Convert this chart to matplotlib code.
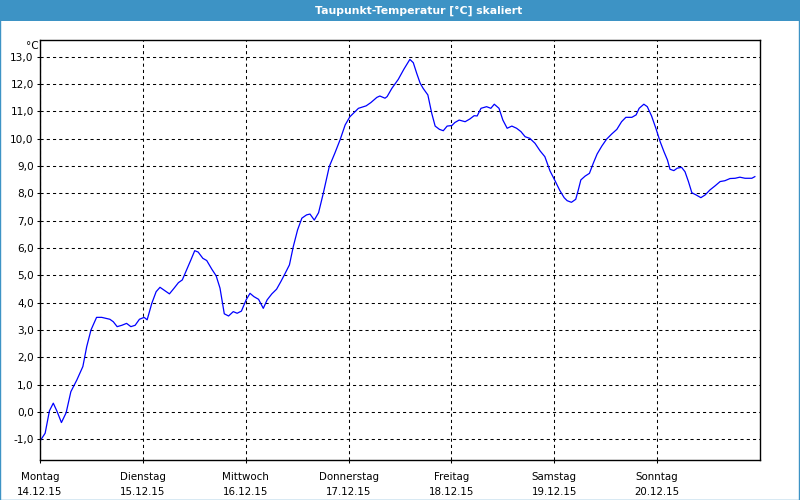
import matplotlib
matplotlib.use("Agg")
import matplotlib.pyplot as plt
from matplotlib.patches import Rectangle

# Stunden seit Montag 14.12.15 00:00 und Taupunkt in °C
hours = [0.2, 1.2, 2.2, 3.1, 4.0, 5.0, 6.1, 7.2, 8.6, 10.0, 10.9, 11.9, 13.2, 14.4,
         16.3, 17.1, 18.0, 19.1, 20.2, 21.2, 22.2, 23.2, 24.3, 25.0, 26.1, 27.1,
         28.0, 29.2, 30.2, 31.3, 32.3, 33.2, 34.2, 35.2, 36.1, 36.9, 38.0, 38.9,
         40.1, 41.1, 42.0, 43.0, 44.0, 45.1, 46.0, 47.0, 48.1, 49.0, 49.9, 51.0,
         52.1, 53.0, 54.1, 55.2, 56.2, 57.2, 58.2, 59.1, 60.1, 61.1, 62.2, 63.0,
         64.0, 65.0, 66.1, 67.5, 68.8, 70.0, 71.2, 72.3, 74.3, 76.1, 77.2, 78.6,
         79.3, 80.5, 81.0, 82.1, 83.6, 84.9, 86.3, 87.1, 87.9, 88.7, 89.4, 90.5,
         91.4, 92.2, 93.2, 94.1, 95.0, 96.1, 96.8, 97.8, 99.2, 100.3, 101.3, 102.0,
         102.9, 104.2, 105.2, 106.0, 107.1, 108.0, 109.0, 110.1, 111.2, 112.2,
         113.2, 114.3, 115.5, 116.7, 117.8, 119.0, 120.2, 121.3, 122.3, 123.0,
         124.0, 125.0, 125.6, 126.2, 127.2, 128.2, 129.1, 130.0, 131.1, 132.2,
         133.4, 134.6, 135.7, 136.7, 138.1, 139.1, 139.8, 140.9, 141.7, 142.7,
         143.7, 144.7, 145.6, 146.4, 147.0, 147.9, 148.7, 149.7, 150.5, 151.3,
         152.1, 153.1, 154.2, 155.2, 156.3, 157.5, 158.7, 159.8, 161.0, 162.2,
         163.3, 164.5, 166.1, 166.8]
dewpoint = [-1.02, -0.78, 0.04, 0.32, 0.01, -0.39, -0.03, 0.74, 1.17, 1.66, 2.39, 3.0,
            3.46, 3.46, 3.39, 3.30, 3.12, 3.17, 3.24, 3.12, 3.17, 3.39, 3.46, 3.37,
            3.98, 4.40, 4.56, 4.43, 4.32, 4.53, 4.73, 4.83, 5.19, 5.56, 5.90, 5.85,
            5.62, 5.54, 5.22, 4.98, 4.53, 3.59, 3.51, 3.67, 3.61, 3.69, 4.10, 4.34,
            4.22, 4.12, 3.79, 4.10, 4.32, 4.49, 4.77, 5.07, 5.38, 6.05, 6.66, 7.09,
            7.21, 7.24, 7.02, 7.29, 8.0, 8.98, 9.47, 9.95, 10.50, 10.80, 11.11, 11.20,
            11.32, 11.51, 11.56, 11.48, 11.54, 11.84, 12.17, 12.54, 12.90, 12.78,
            12.39, 12.03, 11.84, 11.60, 10.93, 10.46, 10.34, 10.29, 10.46, 10.48,
            10.59, 10.68, 10.62, 10.72, 10.84, 10.83, 11.11, 11.17, 11.11, 11.26,
            11.11, 10.68, 10.38, 10.46, 10.38, 10.26, 10.07, 10.01, 9.83, 9.55, 9.34,
            8.82, 8.45, 8.10, 7.84, 7.73, 7.67, 7.78, 8.12, 8.49, 8.63, 8.73, 9.10,
            9.44, 9.73, 9.98, 10.17, 10.34, 10.62, 10.78, 10.78, 10.87, 11.11, 11.26,
            11.17, 10.83, 10.38, 9.89, 9.52, 9.22, 8.88, 8.83, 8.92, 8.95, 8.79, 8.43,
            8.02, 7.94, 7.84, 7.94, 8.12, 8.27, 8.43, 8.46, 8.54, 8.55, 8.59, 8.55,
            8.55, 8.61]

day_names = ["Montag", "Dienstag", "Mittwoch", "Donnerstag", "Freitag", "Samstag", "Sonntag"]
day_dates = ["14.12.15", "15.12.15", "16.12.15", "17.12.15", "18.12.15", "19.12.15", "20.12.15"]
y_ticks = list(range(-1, 14))

BAR_BLUE = "#3d93c5"
plt.rcParams['font.family'] = ['DejaVu Sans']

fig = plt.figure(figsize=(8, 5), dpi=100)
ax = fig.add_axes([40 / 800, 40 / 500, 720 / 800, 420 / 500])

ax.plot(hours, dewpoint, color="#0000ff", lw=0.9)

ax.set_xlim(0, 168)
ax.set_ylim(-1.76, 13.61)
ax.set_xticks([24 * i for i in range(len(day_names))])
ax.set_xticklabels([f"{n}\n{d}" for n, d in zip(day_names, day_dates)],
                   fontsize=7.4, linespacing=1.6)
ax.set_yticks(y_ticks)
ax.set_yticklabels([f"{v:.1f}".replace(".", ",") for v in y_ticks], fontsize=7.6)
ax.tick_params(direction="out", length=2.5, width=0.75, pad=2)
ax.tick_params(axis="x", pad=6)

ax.grid(True, color="black", lw=0.75, linestyle=(0, (3, 3)))
for s in ax.spines.values():
    s.set_linewidth(1.0)
    s.set_color("black")

fig.text(32 / 800, 1 - 46 / 500, "°C", fontsize=7.6, ha="center", va="center")

# Titelleiste
fig.patches.append(Rectangle((0, 1 - 21 / 500), 1, 21 / 500, transform=fig.transFigure,
                             facecolor=BAR_BLUE, edgecolor="none", zorder=0))
fig.text(419 / 800, 1 - 10.5 / 500, "Taupunkt-Temperatur [°C] skaliert", color="white",
         fontsize=7.8, fontweight="bold", ha="center", va="center")
fig.patches.append(Rectangle((0.0006, 0.001), 0.9985, 0.997, transform=fig.transFigure,
                             facecolor="none", edgecolor=BAR_BLUE, lw=1.0))

fig.savefig("out.png", dpi=100)
